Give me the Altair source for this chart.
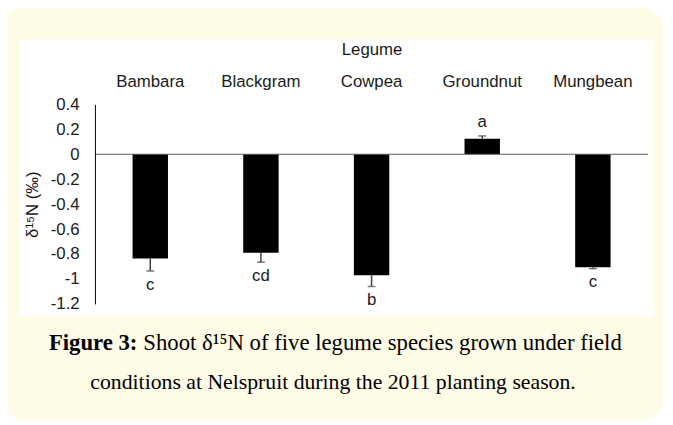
import altair as alt
import pandas as pd

# ---- data ----
legumes = ["Bambara", "Blackgram", "Cowpea", "Groundnut", "Mungbean"]
means = [-0.836, -0.79, -0.97, 0.125, -0.905]
errors = [0.10, 0.075, 0.09, 0.022, 0.012]
letters = ["c", "cd", "b", "a", "c"]
y_ticks = [0.4, 0.2, 0, -0.2, -0.4, -0.6, -0.8, -1.0, -1.2]

x_title = "Legume"
y_title = "δ¹⁵N (‰)"
caption_bold = "Figure 3:"
caption_rest1 = "Shoot δ¹⁵N of five legume species grown under field"
caption_line2 = "conditions at Nelspruit during the 2011 planting season."

CREAM = "#fefbe7"
FONT = "Liberation Sans"
SERIF = "Liberation Serif"
TXT = "#1a1a1a"

df = pd.DataFrame({"legume": legumes, "mean": means, "err": errors, "letter": letters})

W, H = 560, 202

xaxis = alt.Axis(orient="top", title=x_title, domain=False, ticks=False,
                 labelAngle=0, labelPadding=14, titlePadding=14, zindex=1)
xscale = alt.Scale(paddingInner=0.68, paddingOuter=0.34)
yscale = alt.Scale(domain=[-1.2, 0.4], nice=False, zero=False)
yaxis = alt.Axis(title=y_title, values=y_ticks, ticks=False, grid=False,
                 domainColor="black", domainWidth=1, labelPadding=16,
                 labelOverlap=False, labelFlush=False, labelBound=False,
                 titlePadding=9, zindex=1,
                 labelExpr="datum.value == 0 ? '0' : (datum.value < 0 ? '-' : '') + format(abs(datum.value), '~g')")

def X():
    return alt.X("legume:N", sort=legumes, scale=xscale, axis=xaxis)

def Y(field):
    return alt.Y(field, scale=yscale, axis=yaxis, title=y_title)

one = pd.DataFrame({"k": [0]})

bg = alt.Chart(one).mark_rect(color=CREAM, cornerRadius=20).encode(
    x=alt.value(-94), x2=alt.value(575), y=alt.value(-98), y2=alt.value(319))
panel = alt.Chart(one).mark_rect(color="white").encode(
    x=alt.value(-76), x2=alt.value(566), y=alt.value(-66), y2=alt.value(214))

bars = alt.Chart(df).mark_bar(color="black").encode(
    x=X(), y=Y("mean:Q"), y2=alt.datum(0))

base = alt.Chart(df).transform_calculate(
    end="datum.mean + (datum.mean < 0 ? -1 : 1) * datum.err",
    lab="datum.mean + (datum.mean < 0 ? -1 : 1) * (datum.err + 0.11)")

err_rule = base.mark_rule(color="#404040", strokeWidth=1.5).encode(
    x=X(), y=Y("mean:Q"), y2="end:Q")
err_cap = base.mark_tick(color="#404040", thickness=1.5, size=8).encode(
    x=X(), y=Y("end:Q"))
lab = base.mark_text(font=FONT, fontSize=17, color=TXT, baseline="middle").encode(
    x=X(), y=Y("lab:Q"), text="letter:N")

zero = alt.Chart(pd.DataFrame({"v": [0]})).mark_rule(color="#595959", strokeWidth=1).encode(
    y=Y("v:Q"))

cap_anchor = 43
cap1a = alt.Chart(one).mark_text(font=SERIF, fontSize=23, fontWeight="bold", color="black",
                                 align="right", baseline="middle").encode(
    x=alt.value(cap_anchor), y=alt.value(242), text=alt.value(caption_bold))
cap1b = alt.Chart(one).mark_text(font=SERIF, fontSize=23, color="black",
                                 align="left", baseline="middle").encode(
    x=alt.value(cap_anchor + 6), y=alt.value(242), text=alt.value(caption_rest1))
cap2 = alt.Chart(one).mark_text(font=SERIF, fontSize=22, color="black",
                                align="center", baseline="middle").encode(
    x=alt.value(241), y=alt.value(281), text=alt.value(caption_line2))

chart = alt.layer(bg, panel, bars, zero, err_rule, err_cap, lab, cap1a, cap1b, cap2).properties(
    width=W, height=H,
    autosize=alt.AutoSizeParams(type="none"),
    padding={"left": 88, "top": 95, "right": 17, "bottom": 120},
    background="white",
).configure_view(stroke=None).configure_axis(
    labelFont=FONT, titleFont=FONT, labelFontSize=17, titleFontSize=17,
    labelColor=TXT, titleColor=TXT, titleFontWeight="normal",
).configure_axisY(titleFontSize=17, labelOverlap=False)

chart.save("out.html", embed_options={"renderer": "svg", "actions": False})
